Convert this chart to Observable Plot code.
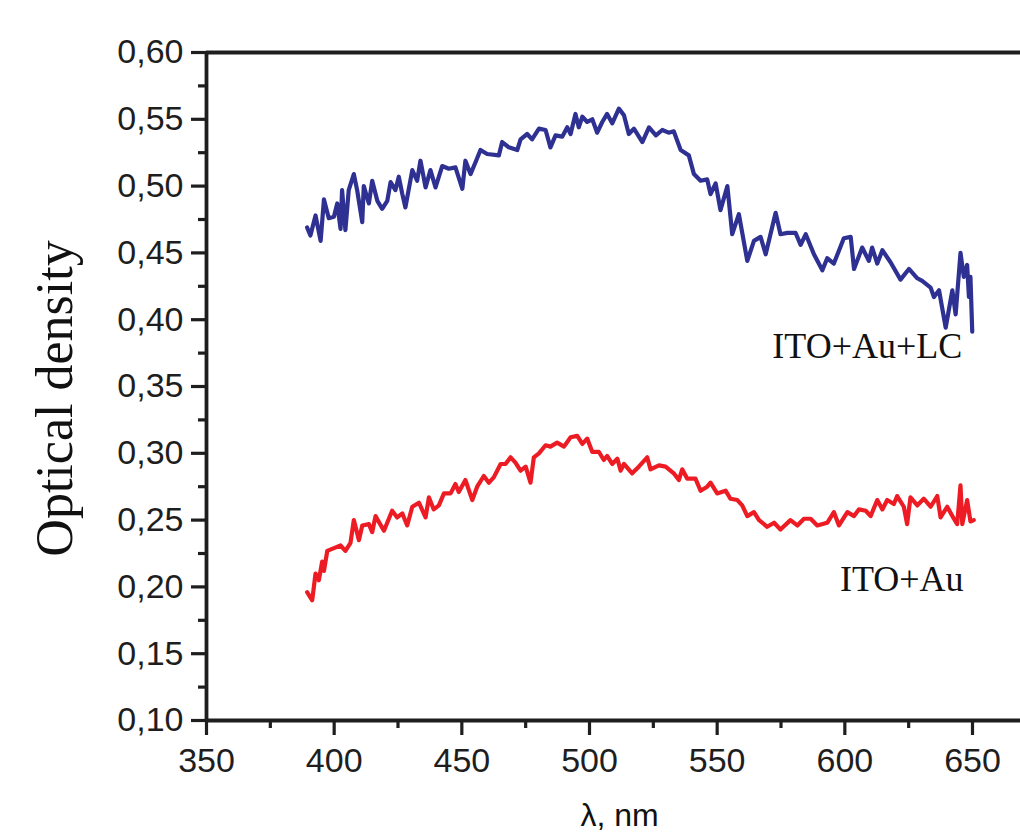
<!DOCTYPE html>
<html>
<head>
<meta charset="utf-8">
<script src="https://cdn.jsdelivr.net/npm/d3@7"></script>
<script src="https://cdn.jsdelivr.net/npm/@observablehq/plot@0.6"></script>
<style>
  html, body { margin: 0; padding: 0; background: #ffffff; }
  #chart svg { display: block; overflow: visible; }
</style>
</head>
<body>
<div id="chart"></div>
<script>
// ---- data ----
const lcWavelength = [389.4,390.7,392.7,394.7,396.0,397.9,399.9,401.2,402.5,403.1,404.4,405.7,407.7,409.0,411.0,411.6,413.6,414.9,416.9,418.8,420.8,422.1,424.0,425.3,426.7,427.9,430.6,432.5,433.8,435.8,437.7,439.7,442.3,444.9,447.5,450.2,451.4,453.4,455.4,457.3,459.9,464.5,465.8,468.4,471.7,473.0,475.6,477.5,480.2,482.8,484.7,486.7,489.3,491.3,492.6,494.5,495.8,497.2,499.1,501.1,503.0,505.0,506.9,508.9,511.5,513.5,515.4,517.4,520.7,523.3,526.0,528.5,531.0,533.0,535.7,538.9,540.9,543.5,546.1,547.4,549.4,551.3,554.0,555.9,558.5,561.8,564.4,567.0,569.0,572.9,574.8,577.5,580.7,582.7,584.7,587.9,591.2,593.1,595.7,599.6,602.3,603.6,606.8,609.4,610.7,612.7,614.7,617.9,621.8,625.1,628.4,630.3,633.6,634.9,636.9,639.5,642.1,643.4,645.3,646.6,647.9,648.6,649.2,649.9];
const lcDensity = [0.469,0.463,0.478,0.459,0.490,0.476,0.477,0.487,0.468,0.497,0.467,0.497,0.509,0.497,0.473,0.500,0.487,0.504,0.489,0.483,0.489,0.503,0.497,0.507,0.494,0.484,0.512,0.504,0.519,0.499,0.512,0.499,0.515,0.513,0.514,0.498,0.519,0.509,0.518,0.527,0.524,0.523,0.533,0.529,0.527,0.535,0.539,0.535,0.543,0.542,0.529,0.538,0.537,0.544,0.539,0.554,0.544,0.552,0.548,0.550,0.540,0.548,0.554,0.547,0.558,0.553,0.539,0.543,0.533,0.544,0.538,0.542,0.540,0.541,0.527,0.523,0.509,0.504,0.505,0.494,0.502,0.482,0.500,0.464,0.479,0.444,0.459,0.462,0.449,0.480,0.464,0.465,0.465,0.456,0.464,0.449,0.437,0.446,0.442,0.461,0.462,0.438,0.454,0.444,0.454,0.442,0.452,0.443,0.430,0.438,0.431,0.429,0.424,0.417,0.422,0.394,0.422,0.404,0.450,0.432,0.441,0.417,0.432,0.391];

const auWavelength = [389.4,391.4,392.7,394.0,395.3,396.0,397.3,399.9,402.5,404.4,406.4,407.7,409.7,411.0,413.6,414.9,416.2,419.5,422.7,424.7,426.7,428.6,430.6,433.2,435.8,437.1,439.0,441.0,443.0,445.6,447.5,448.8,451.4,454.1,456.0,458.6,460.6,462.5,465.2,467.1,469.1,471.0,473.0,475.0,476.9,478.2,480.2,482.8,484.7,487.3,490.0,492.6,495.2,497.2,499.1,501.1,503.7,505.6,506.9,508.9,510.9,512.2,513.5,516.7,519.3,522.6,523.9,527.2,529.8,533.0,535.0,536.3,538.3,541.5,543.5,546.1,547.4,550.0,553.3,555.2,557.9,559.8,561.8,564.4,566.4,569.6,572.3,574.8,578.7,581.4,584.0,586.6,589.2,593.1,595.7,597.7,601.0,603.6,605.5,608.2,610.1,612.7,614.7,616.6,619.2,620.5,623.1,624.4,625.7,628.4,630.9,633.6,636.2,637.5,640.1,642.7,644.0,645.3,646.0,647.9,649.2,650.5];
const auDensity = [0.196,0.190,0.210,0.205,0.219,0.212,0.227,0.229,0.231,0.227,0.233,0.250,0.235,0.246,0.247,0.241,0.253,0.242,0.257,0.252,0.255,0.246,0.260,0.263,0.252,0.267,0.258,0.261,0.270,0.270,0.277,0.271,0.280,0.265,0.275,0.283,0.278,0.282,0.292,0.292,0.297,0.293,0.287,0.290,0.278,0.297,0.300,0.306,0.305,0.308,0.305,0.312,0.313,0.307,0.311,0.301,0.301,0.295,0.298,0.292,0.296,0.287,0.292,0.285,0.290,0.297,0.288,0.291,0.290,0.285,0.280,0.288,0.281,0.281,0.272,0.275,0.278,0.270,0.272,0.266,0.265,0.261,0.253,0.256,0.250,0.245,0.248,0.243,0.250,0.246,0.251,0.251,0.246,0.248,0.256,0.246,0.256,0.253,0.258,0.257,0.253,0.265,0.258,0.265,0.262,0.268,0.260,0.247,0.267,0.261,0.266,0.260,0.268,0.252,0.260,0.251,0.247,0.276,0.247,0.265,0.249,0.250];

const seriesNames = ["ITO+Au+LC", "ITO+Au"];
const seriesColors = ["#2e3192", "#ed1c24"];
const labelX = [646, 646.5];
const labelY = [0.371, 0.197];

const xTicks = [350, 400, 450, 500, 550, 600, 650];
const xMinorTicks = [375, 425, 475, 525, 575, 625];
const yTicks = [0.10, 0.15, 0.20, 0.25, 0.30, 0.35, 0.40, 0.45, 0.50, 0.55, 0.60];
const yMinorTicks = [0.125, 0.175, 0.225, 0.275, 0.325, 0.375, 0.425, 0.475, 0.525, 0.575];

const xTitle = "λ, nm";
const yTitle = "Optical density";

// ---- build tables ----
const lcData = lcWavelength.map((w, i) => ({w, v: lcDensity[i]}));
const auData = auWavelength.map((w, i) => ({w, v: auDensity[i]}));
const labels = seriesNames.map((name, i) => ({name, x: labelX[i], y: labelY[i], color: seriesColors[i]}));

const sans = "'Liberation Sans', Arial, Helvetica, sans-serif";
const serif = "'Liberation Serif', 'Times New Roman', Times, serif";
const axisColor = "#1e1e1e";
const comma = d => d.toFixed(2).replace(".", ",");

const chart = Plot.plot({
  width: 1020,
  height: 836,
  marginLeft: 206,
  marginRight: 0,
  marginTop: 52,
  marginBottom: 116,
  style: {fontFamily: sans, color: axisColor, background: "#ffffff"},
  x: {domain: [350, 668.8], axis: null},
  y: {domain: [0.10, 0.60], axis: null},
  marks: [
    Plot.lineY(lcData, {x: "w", y: "v", stroke: seriesColors[0], strokeWidth: 4.2, strokeLinejoin: "round", strokeLinecap: "round"}),
    Plot.lineY(auData, {x: "w", y: "v", stroke: seriesColors[1], strokeWidth: 4.2, strokeLinejoin: "round", strokeLinecap: "round"}),
    // frame lines
    Plot.ruleY([0.60], {stroke: axisColor, strokeWidth: 3.8}),
    Plot.ruleY([0.10], {stroke: axisColor, strokeWidth: 3.8}),
    Plot.ruleX([350], {stroke: axisColor, strokeWidth: 3.8}),
    // axes
    Plot.axisY({ticks: yTicks, tickSize: 15, tickPadding: 8, tickFormat: comma, fontSize: 34, strokeWidth: 3.2, label: null}),
    Plot.axisY({ticks: yMinorTicks, tickSize: 8, tickFormat: () => "", strokeWidth: 3.2, label: null}),
    Plot.axisX({ticks: xTicks, tickSize: 15, tickPadding: 12, tickFormat: d => String(d), fontSize: 34, strokeWidth: 3.2, label: null}),
    Plot.axisX({ticks: xMinorTicks, tickSize: 8, tickFormat: () => "", strokeWidth: 3.2, label: null}),
    // titles
    Plot.text([yTitle], {frameAnchor: "left", dx: -151, dy: 12, rotate: -90, textAnchor: "middle", lineAnchor: "middle", fontSize: 52, fontFamily: serif, fill: "#111", text: d => d}),
    Plot.text([xTitle], {frameAnchor: "bottom", dx: 6, dy: 105, textAnchor: "middle", lineAnchor: "bottom", fontSize: 32, fontFamily: sans, fill: "#111", text: d => d}),
    // series labels
    Plot.text(labels, {x: "x", y: "y", text: "name", textAnchor: "end", lineAnchor: "bottom", fontSize: 36, fontFamily: serif, fill: "#111"})
  ]
});
document.getElementById("chart").appendChild(chart);
</script>
</body>
</html>
